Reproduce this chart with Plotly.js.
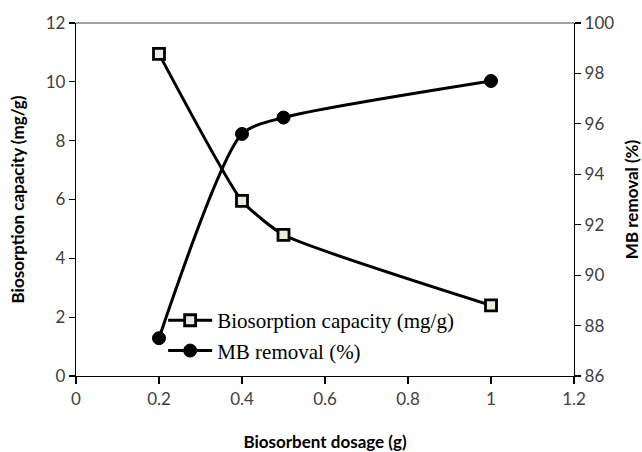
<!DOCTYPE html>
<html>
<head>
<meta charset="utf-8">
<script src="https://cdn.plot.ly/plotly-3.0.1.min.js"></script>
<style>html,body{margin:0;padding:0;background:#fff;}#chart{width:642px;height:452px;}</style>
</head>
<body>
<div id="chart"></div>
<script>
const dosage = [0.2, 0.4, 0.5, 1.0];
const capacity = [10.95, 5.95, 4.8, 2.4];
const removal = [87.5, 95.6, 96.25, 97.7];
const xTicks = [0, 0.2, 0.4, 0.6, 0.8, 1, 1.2];
const xTickText = ['0', '0.2', '0.4', '0.6', '0.8', '1', '1.2'];
const y1Ticks = [0, 2, 4, 6, 8, 10, 12];
const y2Ticks = [86, 88, 90, 92, 94, 96, 98, 100];

const traces = [
  {
    x: dosage, y: capacity, name: 'Biosorption capacity (mg/g)',
    type: 'scatter', mode: 'lines+markers', yaxis: 'y',
    line: {color: '#000', width: 3, shape: 'spline', smoothing: 0.5},
    marker: {symbol: 'square', size: 11, color: '#eeeadb', line: {color: '#000', width: 2.8}}
  },
  {
    x: dosage, y: removal, name: 'MB removal (%)',
    type: 'scatter', mode: 'lines+markers', yaxis: 'y2',
    line: {color: '#000', width: 3, shape: 'spline', smoothing: 0.7},
    marker: {symbol: 'circle', size: 13, color: '#000', line: {color: '#000', width: 1}}
  }
];

const tickFont = {family: 'Lato, "Open Sans", sans-serif', size: 17, color: '#404040'};
const titleFont = {family: 'Lato, "Open Sans", sans-serif', size: 17, color: '#000', weight: 'bold'};

const layout = {
  width: 642, height: 452,
  margin: {l: 76, r: 68, t: 23, b: 76},
  paper_bgcolor: '#fff', plot_bgcolor: '#fff',
  showlegend: true,
  legend: {
    x: 0.175, y: 0.215, xanchor: 'left', yanchor: 'top',
    bgcolor: 'rgba(0,0,0,0)', borderwidth: 0,
    font: {family: '"Liberation Serif", "Times New Roman", serif', size: 21, color: '#000'},
    tracegroupgap: 4, itemwidth: 44
  },
  xaxis: {
    range: [0, 1.2], tickvals: xTicks, ticktext: xTickText,
    showgrid: false, zeroline: false, showline: true, linecolor: '#000', linewidth: 1.2,
    ticks: 'outside', ticklen: 7, tickcolor: '#000', tickwidth: 1.2,
    tickfont: tickFont, mirror: false,
    title: {text: 'Biosorbent dosage (g)', font: titleFont, standoff: 40}
  },
  yaxis: {
    range: [0, 12], tickvals: y1Ticks,
    showgrid: false, zeroline: false, showline: true, linecolor: '#000', linewidth: 1.2,
    ticks: 'outside', ticklen: 6, tickcolor: '#000', tickwidth: 1.2,
    tickfont: tickFont,
    title: {text: 'Biosorption capacity (mg/g)', font: titleFont, standoff: 16}
  },
  yaxis2: {
    range: [86, 100], tickvals: y2Ticks, overlaying: 'y', side: 'right',
    showgrid: false, zeroline: false, showline: true, linecolor: '#000', linewidth: 1.2,
    ticks: 'outside', ticklen: 6, tickcolor: '#000', tickwidth: 1.2,
    tickfont: tickFont,
    title: {text: 'MB removal (%)', font: titleFont, standoff: 14}
  },
  shapes: [
    {type: 'line', xref: 'paper', yref: 'paper', x0: 0, x1: 1, y0: 1, y1: 1, line: {color: '#444', width: 1.2}}
  ]
};

Plotly.newPlot('chart', traces, layout, {displayModeBar: false, staticPlot: true});
</script>
</body>
</html>
